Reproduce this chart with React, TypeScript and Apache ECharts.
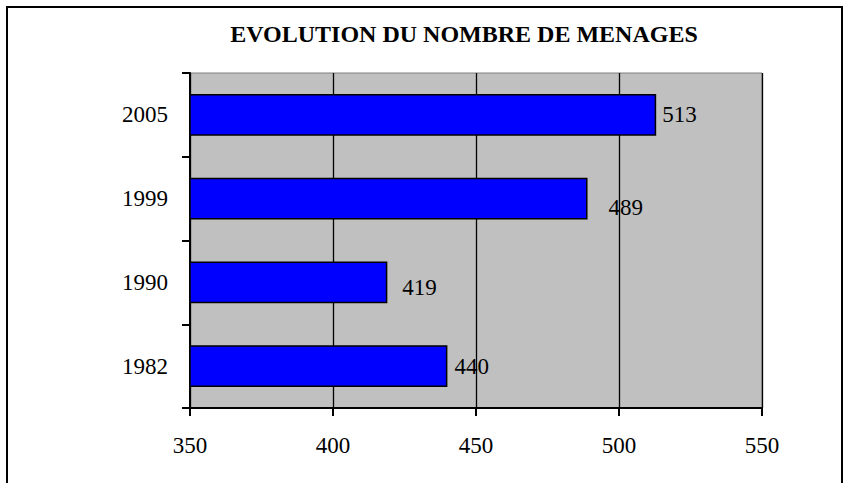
import React, { useEffect, useRef } from "react";
import * as echarts from "echarts";

const categories = ["1982", "1990", "1999", "2005"];
const values = [440, 419, 489, 513];
const xTicks = { min: 350, max: 550, interval: 50 };
const title = "EVOLUTION DU NOMBRE DE MENAGES";
// Excel-like label offsets [dx, dy] per bar (bottom to top)
const labelOffsets = [
  [2, 0],
  [10, 5],
  [16, 9],
  [1, 0],
];

const FONT = '"Liberation Serif", "Times New Roman", serif';

export default function App() {
  const ref = useRef<HTMLDivElement>(null);
  useEffect(() => {
    if (!ref.current) return;
    const chart = echarts.init(ref.current, null, { renderer: "svg" });
    chart.setOption({
      animation: false,
      backgroundColor: "#ffffff",
      title: {
        text: title,
        left: 459,
        top: 17,
        textAlign: "center",
        textStyle: { fontFamily: FONT, fontSize: 24, fontWeight: "bold", color: "#000" },
      },
      graphic: [
        {
          type: "rect",
          shape: { x: 7, y: 7, width: 835, height: 500 },
          style: { fill: "none", stroke: "#000", lineWidth: 2 },
          silent: true,
        },
      ],
      grid: {
        left: 190,
        top: 73,
        width: 572,
        height: 335,
        show: true,
        backgroundColor: "#C0C0C0",
        borderColor: "#808080",
        borderWidth: 1,
      },
      xAxis: {
        type: "value",
        min: xTicks.min,
        max: xTicks.max,
        interval: xTicks.interval,
        axisLine: { show: true, lineStyle: { color: "#000", width: 2 } },
        axisTick: { show: true, inside: false, length: 8, lineStyle: { color: "#000", width: 2 } },
        axisLabel: { margin: 26, fontFamily: FONT, fontSize: 23, color: "#000" },
        splitLine: { show: true, lineStyle: { color: "#000", width: 1.3 } },
      },
      yAxis: {
        type: "category",
        data: categories,
        axisLine: { show: true, lineStyle: { color: "#000", width: 2 } },
        axisTick: { show: true, inside: false, length: 8, lineStyle: { color: "#000", width: 2 } },
        axisLabel: { margin: 22, fontFamily: FONT, fontSize: 23, color: "#000" },
        splitLine: { show: false },
      },
      series: [
        {
          type: "bar",
          barWidth: "50%",
          data: values.map((v, i) => ({
            value: v,
            label: { offset: labelOffsets[i] },
          })),
          itemStyle: { color: "#0000FF", borderColor: "#000", borderWidth: 1.5 },
          label: {
            show: true,
            position: "right",
            distance: 5,
            fontFamily: FONT,
            fontSize: 23,
            color: "#000",
          },
        },
      ],
    });
    return () => chart.dispose();
  }, []);
  return (
    <div
      ref={ref}
      style={{ position: "fixed", left: 0, top: 0, width: 851, height: 483 }}
    />
  );
}
